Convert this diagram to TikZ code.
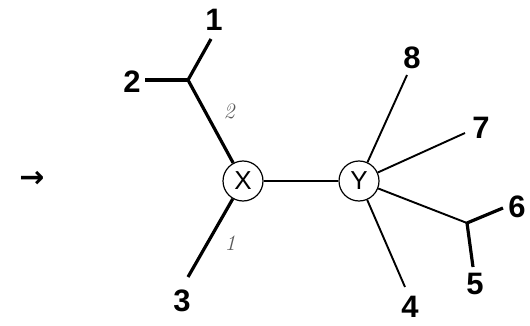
\documentclass[tikz,border=0pt]{standalone}
\usepackage{fontspec}
\setmainfont{Liberation Sans}
\newfontfamily\symfont{DejaVu Sans}
\newfontfamily\itfont{Latin Modern Roman}
\begin{document}
\begin{tikzpicture}[x=1pt,y=-1pt,
  numlab/.style={font=\fontsize{31}{33}\selectfont\bfseries, inner sep=0pt},
  itlab/.style={font=\fontsize{22}{24}\itfont\itshape, text=black!65, inner sep=0pt},
  ringnode/.style={draw, circle, minimum size=40pt, inner sep=0pt, line width=1.2pt, font=\fontsize{26}{28}\selectfont},
  thick line/.style={line width=3.2pt},
  thin line/.style={line width=1.9pt}]
\useasboundingbox (0,0) rectangle (530,326);
% rings
\node[ringnode] (X) at (243,181) {X};
\node[ringnode] (Y) at (359,181) {Y};
% junctions and end points
\coordinate (A) at (188,80);
\coordinate (e1) at (211,39);
\coordinate (e2) at (145,80);
\coordinate (e3) at (188,277);
\coordinate (B) at (467,223);
\coordinate (e4) at (405,287);
\coordinate (e5) at (473,267);
\coordinate (e6) at (503,208);
\coordinate (e7) at (465,133);
\coordinate (e8) at (407,75);
% labels
\node[numlab] (l1) at (214,20) {1};
\node[numlab] (l2) at (132,82) {2};
\node[numlab] (l3) at (182,301) {3};
\node[numlab] (l4) at (410,307) {4};
\node[numlab] (l5) at (475,284) {5};
\node[numlab] (l6) at (517,207) {6};
\node[numlab] (l7) at (481,128) {7};
\node[numlab] (l8) at (412,58) {8};
\node[itlab] (i2) at (229,111) {2};
\node[itlab] (i1) at (230,243) {1};
\node[font=\fontsize{30}{32}\symfont\bfseries, inner sep=0pt] (arr) at (32,179) {→};
% connectors
\draw[thick line] (e1) -- (A);
\draw[thick line] (e2) -- (A);
\draw[thick line] (A) -- (X);
\draw[thick line] (X) -- (e3);
\draw[thin line] (X) -- (Y);
\draw[thin line] (Y) -- (e8);
\draw[thin line] (Y) -- (e7);
\draw[thin line] (Y) -- (B);
\draw[thin line] (Y) -- (e4);
\draw[thick line] (B) -- (e6);
\draw[thick line] (B) -- (e5);
\end{tikzpicture}
\end{document}
